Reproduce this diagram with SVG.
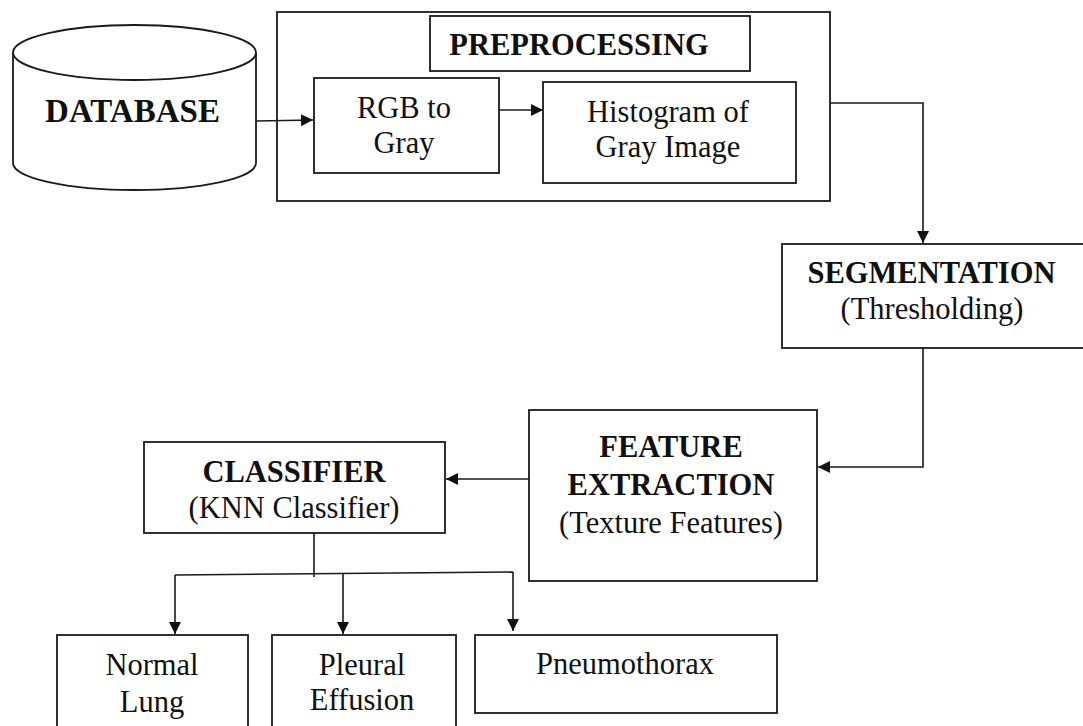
<svg xmlns="http://www.w3.org/2000/svg" width="1083" height="726" viewBox="0 0 1083 726">
<style>
.box{fill:#fff;stroke:#1a1a1a;stroke-width:1.8}
.ln{fill:none;stroke:#1a1a1a;stroke-width:1.6}
.t{font-family:"Liberation Serif","Times New Roman",serif;font-size:30.5px;fill:#111;text-anchor:middle}
.b{font-weight:bold}
</style>
<defs>
<marker id="ah" viewBox="0 0 12 12" refX="12" refY="6" markerWidth="12" markerHeight="12" markerUnits="userSpaceOnUse" orient="auto">
<path d="M0,0 L12,6 L0,12 z" fill="#111"/>
</marker>
</defs>
<rect width="1083" height="726" fill="#fff"/>

<g id="database">
<path class="box" d="M13,52.5 V163 A121.5,27 0 0 0 256,163 V52.5"/>
<ellipse class="box" cx="134.5" cy="52.5" rx="121.5" ry="27.5"/>
<text class="t b" x="132.5" y="122" style="font-size:33px">DATABASE</text>
</g>

<g id="preprocessing">
<rect class="box" x="277" y="12" width="553" height="189" fill="none"/>
<rect class="box" x="430" y="16" width="320" height="55"/>
<text class="t b" x="579" y="55">PREPROCESSING</text>
</g>

<g id="rgb2gray">
<rect class="box" x="314" y="78" width="185" height="95"/>
<text class="t" x="404" y="118">RGB to</text>
<text class="t" x="404" y="153">Gray</text>
</g>

<g id="histogram">
<rect class="box" x="543" y="82" width="253" height="101"/>
<text class="t" x="668" y="122">Histogram of</text>
<text class="t" x="668" y="157">Gray Image</text>
</g>

<g id="segmentation">
<rect class="box" x="782" y="244" width="320" height="104"/>
<text class="t b" x="931.5" y="283">SEGMENTATION</text>
<text class="t" x="932" y="319">(Thresholding)</text>
</g>

<g id="feature-extraction">
<rect class="box" x="529" y="410" width="288" height="171"/>
<text class="t b" x="671" y="457">FEATURE</text>
<text class="t b" x="671" y="495">EXTRACTION</text>
<text class="t" x="671" y="533">(Texture Features)</text>
</g>

<g id="classifier">
<rect class="box" x="144" y="442" width="301" height="91"/>
<text class="t b" x="294" y="482">CLASSIFIER</text>
<text class="t" x="294" y="518">(KNN Classifier)</text>
</g>

<g id="normal-lung">
<rect class="box" x="57" y="635" width="191" height="110"/>
<text class="t" x="152" y="675">Normal</text>
<text class="t" x="152" y="712">Lung</text>
</g>

<g id="pleural-effusion">
<rect class="box" x="272" y="635" width="184" height="110"/>
<text class="t" x="362" y="675">Pleural</text>
<text class="t" x="362" y="710">Effusion</text>
</g>

<g id="pneumothorax">
<rect class="box" x="475" y="635" width="302" height="78"/>
<text class="t" x="625" y="674">Pneumothorax</text>
</g>

<g id="connectors">
<path class="ln" d="M256,121 L313,120" marker-end="url(#ah)"/>
<path class="ln" d="M499,110 H543" marker-end="url(#ah)"/>
<path class="ln" d="M830,103 H923 V243" marker-end="url(#ah)"/>
<path class="ln" d="M923,348 V467 H818" marker-end="url(#ah)"/>
<path class="ln" d="M529,479 H446" marker-end="url(#ah)"/>
<path class="ln" d="M314,533 V577"/>
<path class="ln" d="M175,575 L513,572"/>
<path class="ln" d="M175,575 V634" marker-end="url(#ah)"/>
<path class="ln" d="M343,573 V634" marker-end="url(#ah)"/>
<path class="ln" d="M513,572 V631" marker-end="url(#ah)"/>
</g>
</svg>
